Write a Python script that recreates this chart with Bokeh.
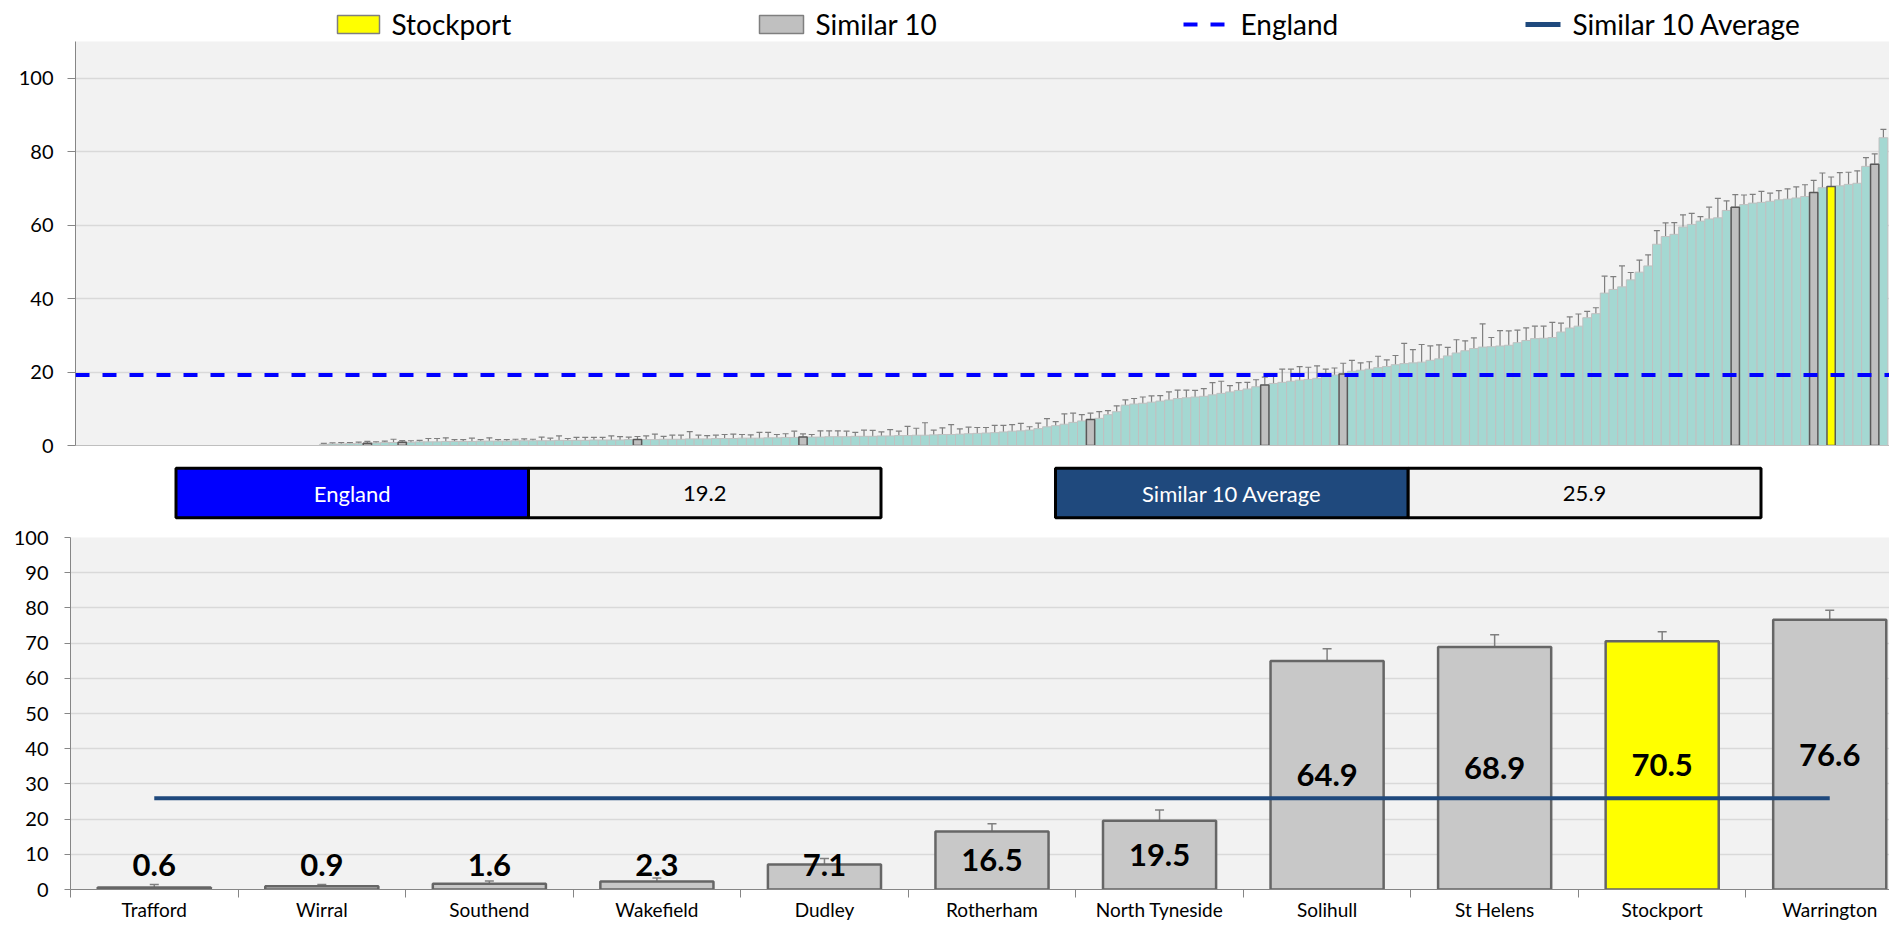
import numpy as np
from bokeh.plotting import figure
from bokeh.models import Range1d, ColumnDataSource, Whisker, TeeHead, FixedTicker, Span
from bokeh.layouts import column
from bokeh.embed import file_html
from bokeh.resources import INLINE
from bokeh.core.properties import value

FONT = "Lato"

# ---------------- data ----------------
england_value = 19.2
similar_avg = 25.9
n_no_data = 28  # authorities without a value (empty slots at the left)

# all authorities, ranked ascending
all_values = [
    0.3, 0.4, 0.4, 0.5, 0.5, 0.6, 0.7, 0.8, 0.8, 0.9,
    0.9, 1.0, 1.0, 1.0, 1.1, 1.1, 1.1, 1.1, 1.2, 1.2,
    1.2, 1.2, 1.3, 1.3, 1.3, 1.3, 1.3, 1.4, 1.4, 1.4,
    1.4, 1.5, 1.5, 1.5, 1.5, 1.6, 1.6, 1.6, 1.6, 1.7,
    1.7, 1.7, 1.8, 1.8, 1.8, 1.9, 1.9, 1.9, 2.0, 2.0,
    2.0, 2.1, 2.1, 2.2, 2.2, 2.3, 2.3, 2.3, 2.4, 2.4,
    2.4, 2.5, 2.5, 2.5, 2.6, 2.6, 2.7, 2.7, 2.8, 2.8,
    2.9, 3.0, 3.0, 3.1, 3.2, 3.3, 3.4, 3.5, 3.7, 3.9,
    4.0, 4.2, 4.6, 5.1, 5.4, 5.8, 6.3, 6.7, 7.1, 7.4,
    8.4, 9.2, 11.0, 11.3, 11.5, 11.8, 12.1, 12.4, 12.8, 13.0,
    13.2, 13.4, 13.8, 14.2, 14.6, 15.0, 15.4, 16.0, 16.5, 16.9,
    17.2, 17.5, 17.8, 18.0, 18.3, 18.8, 19.2, 19.5, 20.2, 20.5,
    20.8, 21.2, 21.5, 22.0, 22.3, 22.5, 22.7, 23.2, 23.6, 24.4,
    25.2, 25.8, 26.4, 26.8, 26.9, 27.1, 27.3, 28.0, 28.6, 29.1,
    29.2, 29.4, 30.9, 32.0, 32.5, 34.8, 35.9, 41.5, 42.5, 43.2,
    45.1, 47.2, 48.9, 54.8, 56.9, 57.5, 59.5, 60.2, 61.1, 61.7,
    62.0, 64.0, 64.9, 65.6, 66.0, 66.2, 66.5, 66.9, 67.1, 67.4,
    67.8, 68.9, 70.2, 70.5, 70.7, 71.1, 71.4, 76.0, 76.6, 83.8,
]
all_err = [
    0.3, 0.3, 0.4, 0.3, 0.4, 0.55, 0.3, 0.4, 0.9, 0.45,
    0.4, 0.4, 0.9, 0.9, 1.0, 0.5, 0.5, 0.9, 0.4, 0.9,
    0.4, 0.4, 0.4, 0.5, 0.4, 1.0, 0.7, 1.2, 0.5, 0.8,
    0.8, 0.7, 0.7, 1.1, 0.9, 0.7, 0.85, 1.0, 1.5, 0.8,
    1.1, 1.1, 2.0, 1.0, 0.9, 0.9, 1.1, 1.2, 1.0, 0.9,
    1.6, 1.5, 0.9, 1.0, 1.7, 0.85, 0.7, 1.7, 1.6, 1.6,
    1.5, 1.1, 1.7, 1.6, 1.1, 1.7, 1.2, 2.5, 1.9, 3.4,
    1.3, 1.8, 2.7, 1.4, 1.8, 1.6, 1.5, 2.0, 1.8, 1.8,
    2.0, 0.9, 1.5, 2.2, 1.1, 2.8, 2.5, 1.7, 1.7, 1.8,
    1.1, 1.6, 1.4, 1.5, 1.7, 1.7, 1.5, 2.2, 2.3, 2.1,
    1.8, 2.1, 3.3, 3.3, 1.7, 2.1, 1.8, 1.9, 2.1, 2.0,
    3.6, 3.3, 3.7, 3.3, 3.4, 2.0, 1.9, 2.9, 3.0, 2.0,
    2.0, 3.1, 1.8, 2.5, 5.5, 3.6, 4.8, 3.9, 3.8, 2.3,
    3.6, 2.7, 2.9, 6.3, 2.5, 4.2, 3.9, 3.4, 3.4, 3.4,
    3.3, 4.1, 2.4, 3.0, 3.3, 1.7, 1.6, 4.6, 3.5, 5.7,
    2.0, 3.3, 3.0, 3.7, 3.7, 3.2, 3.3, 3.0, 1.2, 3.2,
    5.3, 2.6, 3.4, 2.6, 2.4, 3.0, 2.2, 2.5, 2.8, 3.0,
    3.2, 3.3, 4.0, 2.6, 3.6, 3.3, 3.4, 2.4, 2.8, 2.3,
]

# the similar authorities (and the focus area)
areas = ["Trafford", "Wirral", "Southend", "Wakefield", "Dudley", "Rotherham",
         "North Tyneside", "Solihull", "St Helens", "Stockport", "Warrington"]
area_values = [0.6, 0.9, 1.6, 2.3, 7.1, 16.5, 19.5, 64.9, 68.9, 70.5, 76.6]
area_lower = [0.3, 0.5, 0.7, 1.6, 5.4, 14.4, 16.8, 61.6, 65.8, 67.9, 73.9]
area_upper = [1.4, 1.4, 2.4, 3.3, 8.8, 18.7, 22.6, 68.4, 72.4, 73.2, 79.3]
area_rank = [5, 9, 36, 55, 88, 108, 117, 162, 171, 173, 178]
focus = "Stockport"

# ---------------- style ----------------
W = 1889
BG = "#f2f2f2"
GRID = "#d9d9d9"
AXIS = "#868686"
TEAL = "#a4d8d2"
GREY = "#c0c0c0"
YELLOW = "#ffff00"
ENG_BLUE = "#0000ff"
AVG_BLUE = "#1f497d"
ERR = "#7f7f7f"


def blank(height):
    f = figure(width=W, height=height, x_range=Range1d(0, W), y_range=Range1d(height, 0),
               output_backend="svg", toolbar_location=None, min_border=0,
               min_border_left=0, min_border_right=0, min_border_top=0, min_border_bottom=0,
               x_axis_location=None, y_axis_location=None, frame_align=False,
               outline_line_color=None, background_fill_color="white", border_fill_color="white")
    f.grid.visible = False
    return f


# ---------------- legend row ----------------
leg = blank(41)
leg.quad(left=[337], right=[379], top=[15], bottom=[33], fill_color=YELLOW,
         line_color="#7f7f7f", line_width=1.5)
leg.quad(left=[759], right=[803], top=[15], bottom=[33], fill_color=GREY,
         line_color="#7f7f7f", line_width=1.5)
leg.line(x=[1183, 1227], y=[24, 24], line_color=ENG_BLUE, line_width=4, line_dash="14 13")
leg.line(x=[1525, 1560], y=[24, 24], line_color=AVG_BLUE, line_width=5)
leg.text(x=[391, 815, 1240, 1572], y=[23, 23, 23, 23],
         text=["Stockport", "Similar 10", "England", "Similar 10 Average"],
         text_font=value(FONT), text_font_size="28px", text_color="black",
         text_baseline="middle", text_align="left")

# ---------------- top chart (all authorities) ----------------
idx = np.arange(len(all_values))
vals = np.array(all_values)
errs = np.array(all_err)
src_all = ColumnDataSource(dict(x=idx, top=vals, lo=np.maximum(vals - errs, 0), hi=vals + errs))

top = figure(width=W, height=418, x_range=Range1d(-n_no_data - 0.5, 179.7), y_range=Range1d(0, 110),
             output_backend="svg", toolbar_location=None, frame_align=False,
             min_border_left=75, min_border_right=0, min_border_top=0, min_border_bottom=14,
             background_fill_color=BG, border_fill_color="white", outline_line_color=None)
top.vbar(x="x", top="top", width=1.0, source=src_all, fill_color=TEAL, line_color=GREY, line_width=1)

sim_x = [r for r, a in zip(area_rank, areas) if a != focus]
sim_v = [all_values[r] for r in sim_x]
foc_x = [r for r, a in zip(area_rank, areas) if a == focus]
foc_v = [all_values[r] for r in foc_x]
top.vbar(x=sim_x, top=sim_v, width=0.95, fill_color="#bfbfbf", line_color="#595959", line_width=1.5)
top.vbar(x=foc_x, top=foc_v, width=0.95, fill_color=YELLOW, line_color="#595959", line_width=1.5)

top.add_layout(Whisker(source=src_all, base="x", upper="hi", lower="lo", line_color=ERR, line_width=1.2,
                       upper_head=TeeHead(size=6, line_color=ERR, line_width=1.2),
                       lower_head=TeeHead(size=6, line_color=ERR, line_width=1.2)))
top.add_layout(Span(location=england_value, dimension="width", line_color=ENG_BLUE,
                    line_width=4, line_dash="14 13"))

top.yaxis.ticker = FixedTicker(ticks=[0, 20, 40, 60, 80, 100])
top.yaxis.axis_line_color = AXIS
top.yaxis.major_tick_line_color = AXIS
top.yaxis.major_tick_out = 8
top.yaxis.major_tick_in = 0
top.yaxis.minor_tick_line_color = None
top.yaxis.major_label_standoff = 14
top.yaxis.major_label_text_font = FONT
top.yaxis.major_label_text_font_size = "20px"
top.yaxis.major_label_text_color = "black"
top.xaxis.ticker = FixedTicker(ticks=[])
top.xaxis.axis_line_color = "#bfbfbf"
top.xaxis.major_tick_line_color = None
top.xaxis.minor_tick_line_color = None
top.xaxis.major_label_text_font_size = "0px"
top.xgrid.visible = False
top.ygrid.grid_line_color = GRID
top.ygrid.grid_line_width = 1.5

# ---------------- info boxes ----------------
box = blank(64)
box.quad(left=[175.5, 528, 1055, 1407.7], right=[528, 880.5, 1407.7, 1760.5],
         top=[8.7] * 4, bottom=[58.3] * 4,
         fill_color=[ENG_BLUE, BG, AVG_BLUE, BG], line_color="black", line_width=3)
box.text(x=[351.7, 704.2, 1231.4, 1584.1], y=[33.5] * 4,
         text=["England", f"{england_value:.1f}", "Similar 10 Average", f"{similar_avg:.1f}"],
         text_color=["white", "black", "white", "black"],
         text_font=value(FONT), text_font_size="22px", text_align="center", text_baseline="middle")

# ---------------- bottom chart (similar 10) ----------------
n = len(areas)
xs = np.arange(n)
av = np.array(area_values)
src_b = ColumnDataSource(dict(
    x=xs, top=av, lo=area_lower, hi=area_upper,
    color=[YELLOW if a == focus else "#c8c8c8" for a in areas],
    lab=[f"{v:.1f}" for v in area_values],
    laby=np.maximum(av / 2, 7.0),
))
bot = figure(width=W, height=400, x_range=Range1d(-0.5, -0.5 + 1818.5 / 167.5), y_range=Range1d(0, 100),
             output_backend="svg", toolbar_location=None, frame_align=False,
             min_border_left=70, min_border_right=0, min_border_top=14, min_border_bottom=32,
             background_fill_color=BG, border_fill_color="white", outline_line_color=None)
bot.vbar(x="x", top="top", width=0.675, source=src_b, fill_color="color",
         line_color="#666666", line_width=2.5)
bot.line(x=[xs[0], xs[-1]], y=[similar_avg, similar_avg], line_color=AVG_BLUE, line_width=4)
bot.add_layout(Whisker(source=src_b, base="x", upper="hi", lower="lo", line_color=ERR, line_width=1.5,
                       upper_head=TeeHead(size=9, line_color=ERR, line_width=1.5),
                       lower_head=TeeHead(size=9, line_color=ERR, line_width=1.5)))
bot.text(x="x", y="laby", text="lab", source=src_b, text_font=value(FONT), text_font_style="bold",
         text_font_size="31px", text_color="black", text_align="center", text_baseline="middle")

bot.yaxis.ticker = FixedTicker(ticks=list(range(0, 101, 10)))
bot.yaxis.axis_line_color = AXIS
bot.yaxis.major_tick_line_color = AXIS
bot.yaxis.major_tick_out = 6
bot.yaxis.major_tick_in = 0
bot.yaxis.minor_tick_line_color = None
bot.yaxis.major_label_standoff = 16
bot.yaxis.major_label_text_font = FONT
bot.yaxis.major_label_text_font_size = "20px"
bot.yaxis.major_label_text_color = "black"

bot.xaxis.ticker = FixedTicker(ticks=list(xs), minor_ticks=[i - 0.5 for i in range(n + 1)])
bot.xaxis.major_label_overrides = {int(i): a for i, a in zip(xs, areas)}
bot.xaxis.axis_line_color = AXIS
bot.xaxis.major_tick_line_color = None
bot.xaxis.major_tick_out = 0
bot.xaxis.minor_tick_line_color = AXIS
bot.xaxis.minor_tick_out = 8
bot.xaxis.minor_tick_in = 0
bot.xaxis.major_label_standoff = 0
bot.xaxis.major_label_text_font = FONT
bot.xaxis.major_label_text_font_size = "19px"
bot.xaxis.major_label_text_color = "black"
bot.xgrid.visible = False
bot.ygrid.grid_line_color = GRID
bot.ygrid.grid_line_width = 1.5

layout = column(leg, top, box, bot, spacing=0)
open("out.html", "w").write(file_html(layout, INLINE))
